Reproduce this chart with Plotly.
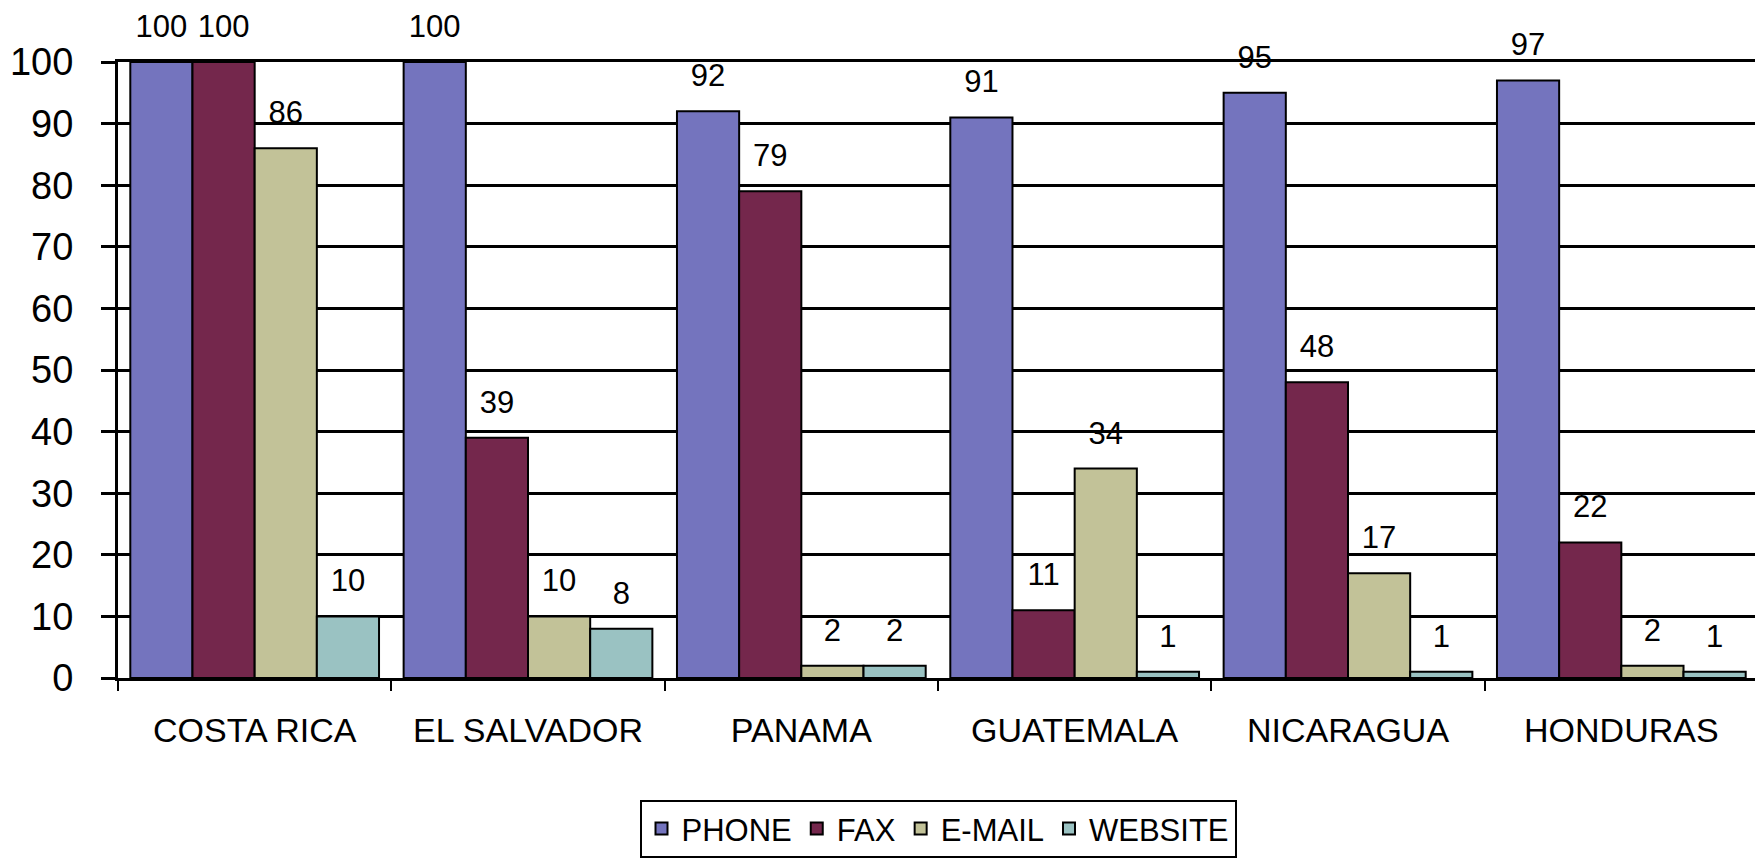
import plotly.graph_objects as go

countries = ["COSTA RICA", "EL SALVADOR", "PANAMA", "GUATEMALA", "NICARAGUA", "HONDURAS"]
phone = [100, 100, 92, 91, 95, 97]
fax = [100, 39, 79, 11, 48, 22]
email = [86, 10, 2, 34, 17, 2]
website = [10, 8, 2, 1, 1, 1]
series_names = ["PHONE", "FAX", "E-MAIL", "WEBSITE"]
y_ticks = [0, 10, 20, 30, 40, 50, 60, 70, 80, 90, 100]

series_values = [phone, fax, email, website]
colors = ["#7474BE", "#74274C", "#C2C298", "#9AC2C2"]
FONT = "Arial, Liberation Sans, sans-serif"

fig = go.Figure()
for name, vals, col in zip(series_names, series_values, colors):
    fig.add_trace(go.Bar(
        x=countries, y=vals, name=name,
        marker=dict(color=col, line=dict(color="black", width=2)),
        hoverinfo="x+y+name",
    ))
for name, vals in zip(series_names, series_values):
    fig.add_trace(go.Scatter(
        x=countries, y=vals, mode="markers+text", orientation="v",
        text=[str(v) for v in vals], textposition="top center",
        textfont=dict(family=FONT, size=31, color="black"),
        marker=dict(size=26, opacity=0),
        showlegend=False, hoverinfo="skip", cliponaxis=False,
    ))

fig.update_layout(
    width=1755, height=856,
    margin=dict(l=102, r=2, t=54, b=186),
    paper_bgcolor="white", plot_bgcolor="white",
    barmode="group", bargap=0.09, bargroupgap=0,
    scattermode="group", scattergap=0.09,
    font=dict(family=FONT, color="black"),
    showlegend=True,
    legend=dict(
        orientation="h", x=0.5, xanchor="center", y=-0.198, yanchor="top",
        font=dict(family=FONT, size=31, color="black"),
        bordercolor="black", borderwidth=2, bgcolor="white",
        itemclick=False, itemdoubleclick=False,
    ),
    xaxis=dict(
        showline=True, linecolor="black", linewidth=3, mirror=True,
        ticks="outside", ticklen=10, tickwidth=2, tickcolor="black",
        tickson="boundaries", showgrid=False,
        tickfont=dict(family=FONT, size=34, color="black"),
        ticklabelstandoff=20,
    ),
    yaxis=dict(
        range=[0, 100], tickvals=y_ticks,
        showline=True, linecolor="black", linewidth=3, mirror=True,
        ticks="outside", ticklen=14, tickwidth=2.5, tickcolor="black",
        showgrid=True, gridcolor="black", gridwidth=2.5,
        zeroline=False,
        tickfont=dict(family=FONT, size=38, color="black"),
        ticklabelstandoff=20,
    ),
)

fig.write_html("out.html")
